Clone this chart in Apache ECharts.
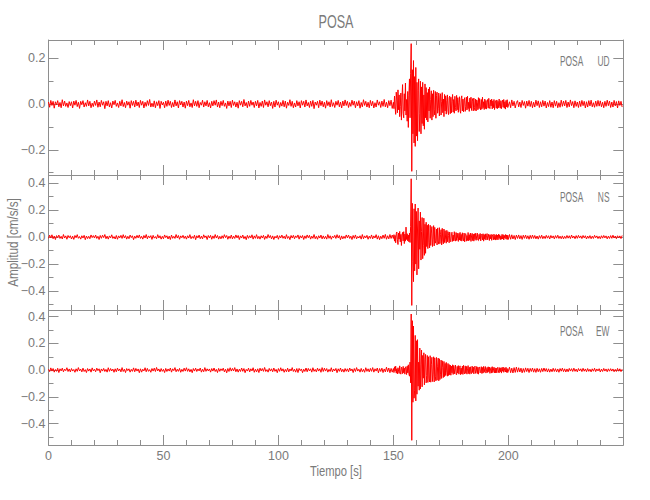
<!DOCTYPE html>
<html><head><meta charset="utf-8">
<script src="https://cdn.jsdelivr.net/npm/echarts@6/dist/echarts.min.js"></script>
<style>html,body{margin:0;padding:0;background:#fff}#c{width:650px;height:500px}</style>
</head><body><div id="c"></div>
<script>
// ---- data: accelerations in mGal (0.001 cm/s/s) ----
// each trace = pre-event part (0-149.5 s, every 0.5 s), event part (150-199.75 s, every 0.25 s),
// coda part (200-249.5 s, every 0.5 s)
const STATION = 'POSA';
const COMPONENTS = ['UD', 'NS', 'EW'];
const PRE_START = 0, EVENT_START = 150, CODA_START = 200;
const DT_COARSE = 0.5, DT_FINE = 0.25;
const X_MIN = 0, X_MAX = 250, X_INTERVAL = 50;
const X_TITLE = 'Tiempo [s]';
const Y_TITLE = 'Amplitud [cm/s/s]';

const udPre = [
9,-14,16,-6,12,-18,10,-4,15,-12,7,-16,19,-8,13,-10,5,-15,11,-7,
10,-17,13,-5,16,-11,8,-19,12,-3,15,-13,6,-10,18,-8,12,-16,4,-11,
13,-6,18,-14,9,-12,16,-5,10,-20,12,-8,15,-13,6,-17,13,-3,16,-10,
5,-15,12,-8,19,-11,7,-16,13,-5,10,-18,15,-6,12,-13,17,-8,9,-15,
16,-5,12,-17,8,-10,15,-6,20,-13,4,-12,14,-16,10,-7,15,-19,12,-4,
8,-16,13,-10,17,-6,12,-15,7,-12,18,-8,10,-17,15,-4,12,-13,9,-18,
13,-7,16,-12,5,-15,19,-8,12,-10,15,-16,7,-5,17,-13,10,-8,16,-12,
6,-17,12,-8,15,-5,18,-13,9,-16,12,-7,16,-10,5,-19,13,-8,12,-15,
17,-6,10,-13,8,-18,15,-5,12,-12,20,-8,7,-16,13,-10,16,-5,9,-15,
12,-8,16,-17,7,-10,13,-15,18,-5,10,-12,15,-7,9,-19,12,-13,17,-5,
10,-15,7,-9,16,-12,13,-18,8,-6,19,-10,12,-16,5,-13,15,-8,10,-17,
15,-5,12,-13,18,-8,7,-15,13,-10,16,-20,9,-5,12,-16,17,-7,13,-12,
8,-18,15,-7,10,-13,19,-10,6,-15,12,-5,16,-12,9,-17,13,-8,18,-6,
12,-15,7,-10,17,-5,13,-16,10,-8,15,-18,7,-12,19,-6,12,-13,8,-16,
16,-8,12,-17,6,-13,18,-5,10,-15,13,-10,20,-12,8,-16,15,-7,17,-19
];
const udEvent = [
8,-20,35,-12,-45,52,18,-38,62,-25,40,-55,-10,48,-70,30,85,-40,-60,45,
-30,92,-48,20,-75,55,-102,38,110,-60,135,264,-294,150,-130,190,-170,120,-185,160,
-140,95,-160,60,110,-120,-40,100,-130,75,-85,95,-95,40,-110,88,-60,72,-70,50,
-78,66,-30,74,-62,20,58,-70,45,-55,60,-25,-48,55,-62,38,52,-40,-20,48,
-52,30,45,-48,10,50,-38,22,-55,42,-30,36,-44,15,40,-32,-46,28,35,-42,
30,-38,12,42,-35,20,-40,34,-15,-30,38,-25,28,-36,8,32,-28,-40,25,36,
-30,22,-34,15,28,-32,-10,30,-26,34,-20,8,-32,26,-18,30,-28,12,24,-30,
26,-15,-28,22,-30,18,8,-25,28,-20,24,-12,-26,20,-22,30,-16,10,-24,22,
-20,16,-22,8,20,-18,25,-12,-20,18,-8,22,-21,14,-16,20,-24,10,15,-18,
18,-20,12,-16,22,-10,-18,15,-20,8,17,-14,20,-18,10,-22,16,-12,19,-15
];
const udCoda = [
-14,10,-16,18,-8,12,-17,6,15,-12,9,-15,16,-6,11,-18,13,-9,16,-11,
12,-16,8,-13,17,-7,14,-15,10,-12,16,-9,13,-17,7,-11,15,-14,9,-16,
15,-9,12,-16,6,-14,17,-10,13,-8,16,-15,9,-12,18,-7,11,-16,14,-10,
9,-15,13,-11,16,-7,12,-17,10,-13,15,-8,17,-12,6,-14,13,-10,16,-9,
14,-12,8,-16,12,-10,17,-7,13,-15,9,-13,16,-8,11,-17,14,-6,12,-13
];

const nsPre = [
-9,14,-6,17,-12,8,-18,11,-4,15,-10,6,-14,19,-7,9,-16,12,-5,10,
-14,7,-17,12,-5,18,-9,4,-15,10,-7,13,-19,8,-11,6,-12,16,-4,11,
-7,15,-10,6,-18,12,-9,14,-4,19,-12,7,-15,9,-6,17,-10,4,-14,12,
-16,9,-6,13,-10,18,-7,11,-15,6,-12,15,-4,10,-19,7,-9,13,-6,16,
-10,6,-15,12,-7,19,-13,9,-5,11,-17,13,-8,4,-12,18,-7,10,-15,6,
-12,16,-4,10,-14,7,-18,15,-9,6,-10,19,-7,12,-16,9,-5,13,-10,7,
-15,10,-7,18,-12,5,-9,14,-19,10,-6,15,-12,7,-13,17,-4,9,-18,12,
-6,13,-16,9,-10,19,-7,12,-15,6,-13,10,-9,18,-4,12,-16,7,-10,15,
-13,7,-10,16,-6,12,-18,9,-7,15,-12,5,-19,13,-9,10,-6,17,-15,9,
-9,18,-12,6,-15,10,-7,13,-17,7,-10,19,-5,12,-13,9,-18,6,-7,13,
-16,10,-6,15,-9,7,-13,18,-10,5,-19,12,-7,13,-12,9,-4,16,-15,10,
-7,12,-18,9,-10,16,-5,13,-15,7,-9,19,-12,6,-16,10,-7,15,-13,9,
-12,6,-15,19,-9,10,-16,7,-5,13,-10,18,-7,12,-19,9,-13,6,-10,16,
-6,15,-10,7,-18,12,-9,16,-13,5,-7,10,-15,19,-12,9,-6,13,-16,7,
-10,16,-13,9,-7,18,-15,10,-19,7,-12,15,-9,20,-16,10,-13,19,-10,15
];
const nsEvent = [
-10,18,-30,12,-42,25,38,-20,-55,30,-15,42,-35,20,-62,15,35,-28,40,-48,
22,-30,74,-18,25,-28,15,-35,30,-40,80,432,-506,250,-180,-330,210,-250,245,-200,
190,-280,60,215,-235,120,-90,185,-170,40,145,-160,-60,140,-135,95,-120,110,-70,88,
-85,95,-40,-80,88,-62,30,78,-70,-20,85,-65,72,-45,-25,60,-58,68,-30,-52,
70,-48,20,55,-58,65,-30,-50,60,-40,48,-15,-45,50,-35,40,12,-42,38,-30,
-35,28,36,-32,15,-28,40,-20,-30,34,-25,30,-10,-32,28,-22,35,-26,20,-30,
32,-15,-28,30,-35,22,26,-30,12,-25,34,-28,18,-22,30,-32,8,28,-26,22,
-30,25,-18,28,-24,10,30,-22,-26,20,-15,27,-28,12,22,-20,25,-30,18,-16,
24,-22,10,26,-20,-18,22,-25,15,-12,20,-24,18,8,-20,22,-17,14,-22,20,
-18,15,-20,22,-10,17,-19,8,-16,20,-14,18,-21,12,-8,19,-15,16,-18,14
];
const nsCoda = [
-17,19,-16,17,-14,12,-18,15,-10,16,-13,11,-17,14,-9,15,-12,10,-16,13,
-11,15,-10,12,-13,8,-15,11,-9,14,-12,7,-11,13,-8,10,-14,12,-7,9,
-13,11,-8,14,-10,7,-12,9,-13,6,-10,12,-8,10,-11,15,-7,8,-12,11,
-9,13,-7,9,-11,12,-6,10,-14,8,-9,11,-12,7,-10,13,-5,9,-11,6,
-12,10,-8,12,-6,9,-13,7,-10,11,-9,14,-7,8,-12,10,-6,9,-11,12
];

const ewPre = [
6,-11,17,-7,12,-15,5,-9,14,-18,10,-6,15,-12,8,-4,18,-10,9,-13,
12,-7,5,-16,10,-9,19,-6,8,-13,15,-10,4,-18,12,-7,9,-15,17,-6,
7,-12,15,-4,10,-19,9,-7,13,-10,6,-15,18,-9,12,-6,8,-16,10,-12,
15,-6,9,-13,19,-10,7,-18,12,-4,10,-15,6,-9,17,-12,13,-7,9,-19,
10,-15,7,-6,18,-12,13,-9,4,-16,12,-7,15,-10,20,-6,9,-13,12,-9,
6,-18,13,-10,9,-7,16,-15,10,-4,19,-12,7,-9,13,-16,6,-10,15,-7,
18,-9,10,-13,6,-19,12,-7,15,-10,9,-6,16,-15,7,-12,19,-9,10,-6,
9,-15,12,-7,16,-10,6,-18,13,-9,10,-4,15,-13,7,-20,12,-10,18,-7,
13,-6,19,-12,9,-15,7,-10,16,-9,12,-19,6,-7,15,-13,10,-6,18,-16,
7,-13,10,-18,15,-6,12,-9,20,-10,4,-15,13,-7,10,-12,16,-9,6,-19,
12,-9,18,-7,10,-16,6,-12,15,-13,9,-6,19,-10,7,-15,12,-18,13,-4,
9,-19,7,-10,16,-12,13,-6,10,-15,18,-9,6,-13,15,-7,10,-16,19,-10,
15,-7,12,-15,6,-10,18,-13,9,-6,13,-19,10,-9,16,-12,7,-15,12,-9,
10,-13,16,-6,9,-18,12,-10,19,-7,7,-15,13,-12,6,-16,18,-9,10,-13,
13,-9,19,-15,10,-7,16,-20,12,-10,15,-18,9,-13,22,-12,16,-19,13,-15
];
const ewEvent = [
12,-18,25,-8,30,-22,10,-28,18,20,-25,32,-15,-30,22,12,-26,28,-20,15,
-30,25,18,-33,30,-20,40,-28,-45,60,-95,420,-525,370,-240,330,-210,-150,260,-230,
220,-180,228,-120,60,-150,165,-140,40,150,-125,110,-60,130,-110,80,118,-95,-40,110,
-92,100,-60,-88,108,-90,40,96,-85,-30,100,-88,92,-50,-80,95,-75,30,90,-80,
85,-70,-30,75,-62,70,20,-55,65,-48,50,-40,58,-15,-45,50,-40,42,-35,38,
-38,30,-20,40,-32,35,-28,10,38,-30,-35,28,-22,34,-30,20,32,-34,15,-28,
30,-32,36,-15,-28,32,-24,28,-30,10,34,-26,22,-30,25,-20,-26,30,-18,24,
-28,20,30,-24,-12,27,-26,22,-30,18,24,-20,-8,26,-25,20,-22,28,-16,12,
27,-22,-25,20,-18,25,-12,23,-24,10,20,-22,26,-18,-15,22,-20,17,-21,15,
-20,18,22,-15,-21,19,-12,17,-22,20,-8,23,-16,-19,18,-14,21,-17,12,-18
];
const ewCoda = [
-16,22,-19,15,-21,19,-17,23,-15,18,-14,15,-20,12,-16,17,-11,14,-18,13,
-10,16,-15,11,-17,14,-12,10,-16,13,-11,16,-9,12,-14,10,-15,8,-12,14,
-10,11,-13,9,-16,12,-8,15,-11,10,-14,9,-12,13,-7,11,-10,15,-9,8,
-13,12,-6,10,-11,14,-8,9,-12,12,-9,7,-13,10,-8,14,-11,9,-6,11,
-14,8,-10,13,-7,9,-12,10,-8,11,-7,9,-12,6,-10,13,-8,10,-11,7
];

// y ranges and tick values per panel (cm/s/s)
const yRanges = [[-0.31, 0.28], [-0.54, 0.46], [-0.56, 0.45]];
const yMajorTicks = [[-0.2, 0, 0.2], [-0.4, -0.2, 0, 0.2, 0.4], [-0.4, -0.2, 0, 0.2, 0.4]];
const yMinorTicks = [[-0.3, -0.1, 0.1], [-0.5, -0.3, -0.1, 0.1, 0.3], [-0.5, -0.3, -0.1, 0.1, 0.3]];

// ---- chart ----
const traces = [[udPre, udEvent, udCoda], [nsPre, nsEvent, nsCoda], [ewPre, ewEvent, ewCoda]];
function toPoints(parts) {
  const [pre, ev, coda] = parts;
  const pts = [];
  pre.forEach((v, i) => pts.push([PRE_START + i * DT_COARSE, v / 1000]));
  ev.forEach((v, i) => pts.push([EVENT_START + i * DT_FINE, v / 1000]));
  coda.forEach((v, i) => pts.push([CODA_START + i * DT_COARSE, v / 1000]));
  return pts;
}
const FONT = "'Liberation Sans',Arial,sans-serif";
const AXIS_COLOR = '#8e8e8e';
const TEXT_COLOR = '#7a7a7a';
const LEFT = 48.5, RIGHT = 26.7, TOPS = [40, 175, 310], H = 135;

const fmt = v => (Math.abs(v) < 1e-9 ? 0 : v).toFixed(1).replace('-', '\u2212');

const grid = [], xAxis = [], yAxis = [], series = [];
TOPS.forEach((top, g) => {
  grid.push({ left: LEFT, right: RIGHT, top: top, height: H, containLabel: false });
  ['bottom', 'top'].forEach(pos => {
    const isLabelled = pos === 'bottom' && g === 2;
    xAxis.push({
      type: 'value', gridIndex: g, position: pos, min: X_MIN, max: X_MAX, interval: X_INTERVAL,
      axisLine: { show: true, onZero: false, lineStyle: { color: AXIS_COLOR, width: 1 } },
      axisTick: { show: true, inside: true, length: 10, lineStyle: { color: AXIS_COLOR } },
      minorTick: { show: true, splitNumber: 5, length: 5, lineStyle: { color: AXIS_COLOR } },
      splitLine: { show: false }, minorSplitLine: { show: false },
      axisLabel: { show: isLabelled, showMaxLabel: false, margin: 4, color: TEXT_COLOR,
        fontFamily: FONT, fontSize: 12.5 }
    });
  });
  const [mn, mx] = yRanges[g];
  [['left', true], ['left', false], ['right', true], ['right', false]].forEach(([pos, major]) => {
    const vals = major ? yMajorTicks[g] : yMinorTicks[g];
    const labelled = pos === 'left' && major;
    yAxis.push({
      type: 'value', gridIndex: g, position: pos, min: mn, max: mx,
      axisLine: { show: major, onZero: false, lineStyle: { color: AXIS_COLOR, width: 1 } },
      axisTick: { show: true, inside: true, length: major ? 10 : 5, customValues: vals,
        lineStyle: { color: AXIS_COLOR } },
      splitLine: { show: false },
      axisLabel: { show: labelled, customValues: vals, formatter: fmt, margin: 3,
        color: TEXT_COLOR, fontFamily: FONT, fontSize: 12.5 }
    });
  });
  series.push({
    type: 'line', xAxisIndex: g * 2, yAxisIndex: g * 4,
    data: toPoints(traces[g]),
    showSymbol: false, symbol: 'none', silent: true, animation: false,
    lineStyle: { color: '#ff0000', width: 1 }
  });
});

function txt(text, x, y, size, sx, align, rot) {
  return { type: 'text', x: x, y: y, scaleX: sx, rotation: rot || 0, silent: true,
    style: { text: text, fontFamily: FONT, fontSize: size, fill: TEXT_COLOR,
      align: align, verticalAlign: 'middle', textAlign: align, textVerticalAlign: 'middle' } };
}
const graphic = [
  txt(STATION, 336, 21.5, 18, 0.7, 'center'),
  txt(X_TITLE, 336, 471.5, 14, 0.8, 'center'),
  txt(Y_TITLE, 13.5, 242.5, 14, 0.83, 'center', Math.PI / 2)
];
const labelY = [61, 197, 331.5];
COMPONENTS.forEach((c, g) => {
  graphic.push(txt(STATION, 560, labelY[g], 14, 0.6, 'left'));
  graphic.push(txt(c, 609.5, labelY[g], 14, 0.6, 'right'));
});

const chart = echarts.init(document.getElementById('c'), null, { renderer: 'svg' });
chart.setOption({
  animation: false, backgroundColor: '#ffffff',
  grid, xAxis, yAxis, series, graphic
});
</script></body></html>
